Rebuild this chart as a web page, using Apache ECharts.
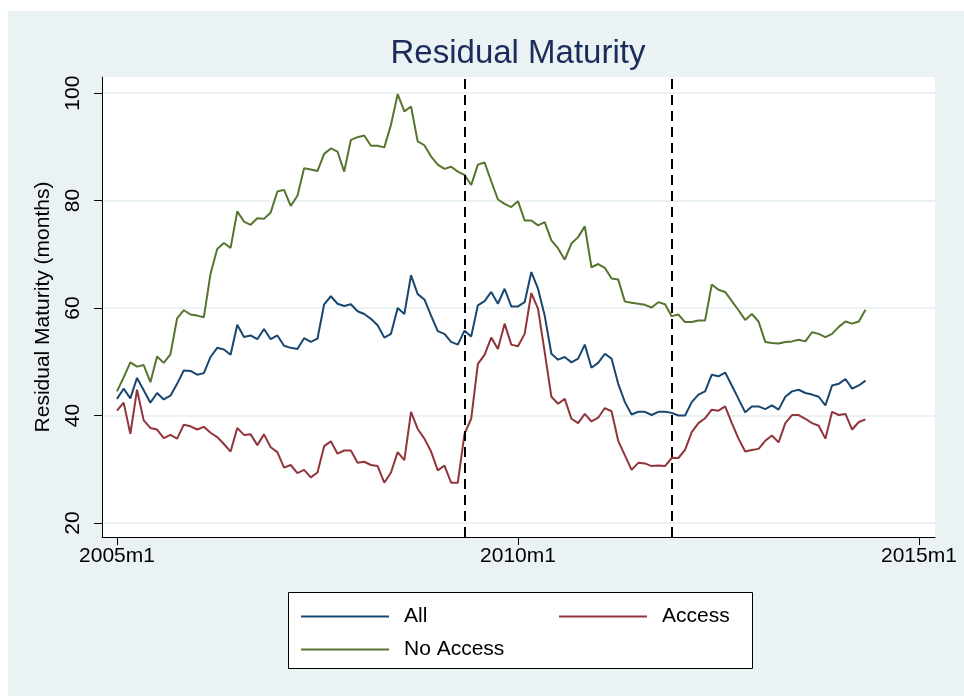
<!DOCTYPE html>
<html>
<head>
<meta charset="utf-8">
<script src="https://cdn.jsdelivr.net/npm/echarts@6/dist/echarts.min.js"></script>
<style>
  html, body { margin: 0; padding: 0; background: #fff; }
  #main { width: 964px; height: 696px; }
</style>
</head>
<body>
<div id="main"></div>
<script>
// months counted from 2005m1 (index 0) to 2014m5 (index 112)
const startYear = 2005;

const allSeries = [
  43.1, 45.0, 43.2, 47.0, 44.7, 42.4, 44.2, 43.0, 43.7, 45.9,
  48.4, 48.3, 47.6, 47.9, 50.9, 52.6, 52.3, 51.3, 56.9, 54.6,
  54.9, 54.2, 56.1, 54.2, 54.9, 53.0, 52.6, 52.4, 54.4, 53.7,
  54.3, 60.7, 62.2, 60.8, 60.4, 60.7, 59.4, 58.9, 58.0, 56.8,
  54.5, 55.2, 60.0, 58.9, 66.1, 62.6, 61.6, 58.6, 55.7, 55.2,
  53.7, 53.2, 55.8, 54.7, 60.5, 61.3, 63.0, 60.8, 63.6, 60.3,
  60.3, 61.1, 66.7, 63.6, 58.6, 51.5, 50.4, 50.9, 49.9, 50.6,
  53.2, 48.9, 49.8, 51.5, 50.6, 45.9, 42.5, 40.2, 40.7, 40.7,
  40.1, 40.7, 40.7, 40.5, 40.0, 40.0, 42.5, 43.9, 44.5, 47.6,
  47.3, 48.0, 45.6, 43.1, 40.6, 41.7, 41.7, 41.2, 41.9, 41.1,
  43.5, 44.5, 44.8, 44.2, 43.9, 43.5, 41.9, 45.6, 45.9, 46.8,
  45.0, 45.6, 46.5
];

const accessSeries = [
  40.9, 42.4, 36.6, 44.8, 39.1, 37.7, 37.4, 35.8, 36.4, 35.7,
  38.3, 38.0, 37.4, 37.9, 36.8, 36.0, 34.7, 33.3, 37.7, 36.4,
  36.5, 34.5, 36.5, 34.1, 33.2, 30.3, 30.8, 29.3, 29.9, 28.5,
  29.4, 34.3, 35.2, 32.9, 33.5, 33.5, 31.2, 31.4, 30.8, 30.6,
  27.5, 29.4, 33.2, 31.7, 40.7, 37.5, 35.7, 33.3, 29.8, 30.7,
  27.5, 27.5, 36.6, 39.4, 49.6, 51.3, 54.5, 52.4, 57.1, 53.2,
  52.9, 55.2, 62.8, 59.9, 51.8, 43.5, 42.2, 43.1, 39.4, 38.6,
  40.3, 38.9, 39.6, 41.4, 40.8, 35.3, 32.6, 29.9, 31.2, 31.1,
  30.6, 30.7, 30.6, 32.1, 32.1, 33.6, 36.9, 38.6, 39.5, 41.1,
  40.9, 41.7, 38.6, 35.7, 33.3, 33.6, 33.8, 35.3, 36.3, 35.0,
  38.6, 40.1, 40.1, 39.4, 38.6, 38.1, 35.7, 40.7, 40.1, 40.3,
  37.4, 38.8, 39.3
];

const noAccessSeries = [
  44.5, 47.1, 49.9, 49.1, 49.4, 46.2, 51.0, 49.8, 51.4, 58.1,
  59.6, 58.8, 58.6, 58.3, 66.4, 71.0, 72.1, 71.2, 78.0, 76.1,
  75.5, 76.7, 76.6, 77.8, 81.7, 82.0, 79.0, 80.9, 86.0, 85.8,
  85.5, 88.7, 89.7, 89.1, 85.4, 91.3, 91.8, 92.1, 90.2, 90.2,
  89.9, 94.1, 99.8, 96.6, 97.5, 91.0, 90.3, 88.2, 86.7, 85.9,
  86.3, 85.4, 84.8, 82.9, 86.7, 87.1, 83.6, 80.2, 79.4, 78.8,
  79.9, 76.3, 76.3, 75.4, 76.0, 72.6, 71.1, 69.0, 72.0, 73.2,
  75.2, 67.6, 68.2, 67.5, 65.5, 65.3, 61.2, 61.0, 60.8, 60.6,
  60.1, 61.1, 60.7, 58.5, 58.8, 57.4, 57.4, 57.7, 57.7, 64.4,
  63.4, 63.0, 61.3, 59.6, 57.8, 58.9, 57.5, 53.7, 53.5, 53.4,
  53.7, 53.8, 54.1, 53.8, 55.5, 55.2, 54.6, 55.2, 56.5, 57.5,
  57.1, 57.5, 59.7
];

const seriesNames = ['All', 'Access', 'No Access'];
const seriesColors = ['#1a476f', '#90353b', '#55752f'];
const eventMonths = ['2009m5', '2011m12'];
const xTickLabels = ['2005m1', '2010m1', '2015m1'];
const yTickValues = [20, 40, 60, 80, 100];

function monthIndex(label) {
  const parts = label.split('m');
  return (parseInt(parts[0], 10) - startYear) * 12 + parseInt(parts[1], 10) - 1;
}
function monthLabel(idx) {
  return (startYear + Math.floor(idx / 12)) + 'm' + (idx % 12 + 1);
}
function toPairs(values) {
  return values.map((v, i) => [i, v]);
}

const font = 'Liberation Sans, Arial, sans-serif';
const chart = echarts.init(document.getElementById('main'));

const lines = [allSeries, accessSeries, noAccessSeries].map((vals, k) => ({
  name: seriesNames[k],
  type: 'line',
  symbol: 'none',
  data: toPairs(vals),
  lineStyle: { color: seriesColors[k], width: 2 },
  itemStyle: { color: seriesColors[k] },
  z: 3,
}));

lines[0].markLine = {
  silent: true,
  symbol: 'none',
  label: { show: false },
  lineStyle: { color: '#000', type: [10, 6], width: 2 },
  data: eventMonths.map((m) => ({ xAxis: monthIndex(m) })),
};

const legendBase = {
  padding: 0,
  itemWidth: 88,
  itemHeight: 14,
  itemStyle: { opacity: 0 },
  textStyle: { fontFamily: font, fontSize: 21, color: '#000', padding: [0, 0, 0, 10] },
};

const option = {
  backgroundColor: '#eaf2f3',
  animation: false,
  title: {
    text: 'Residual Maturity',
    left: 518,
    textAlign: 'center',
    top: 37,
    padding: 0,
    textStyle: { fontFamily: font, fontSize: 33, fontWeight: 'normal', color: '#1c2b5a' },
  },
  graphic: [
    { type: 'rect', shape: { x: 0, y: 0, width: 964, height: 11 }, style: { fill: '#fff' }, silent: true },
    { type: 'rect', shape: { x: 0, y: 0, width: 8, height: 696 }, style: { fill: '#fff' }, silent: true },
    {
      type: 'rect', z: 1,
      shape: { x: 288.5, y: 592.5, width: 464, height: 76 },
      style: { fill: '#fff', stroke: '#000', lineWidth: 1 },
      silent: true,
    },
  ],
  legend: [
    Object.assign({ data: ['All'], left: 300, top: 606 }, legendBase),
    Object.assign({ data: ['Access'], left: 558, top: 606 }, legendBase),
    Object.assign({ data: ['No Access'], left: 300, top: 639 }, legendBase),
  ],
  grid: {
    left: 102,
    right: 29,
    top: 77,
    bottom: 159,
    show: true,
    backgroundColor: '#fff',
    borderWidth: 0,
  },
  xAxis: {
    type: 'value',
    min: -2.24,
    max: 122.4,
    axisLine: { show: true, onZero: false, lineStyle: { color: '#000', width: 1 } },
    axisTick: {
      show: true,
      length: 8,
      lineStyle: { color: '#000' },
      customValues: xTickLabels.map(monthIndex),
    },
    axisLabel: {
      customValues: xTickLabels.map(monthIndex),
      formatter: (v) => monthLabel(Math.round(v)),
      fontFamily: font,
      fontSize: 21,
      color: '#000',
      margin: 9,
    },
    splitLine: { show: false },
  },
  yAxis: {
    type: 'value',
    min: 17.4,
    max: 103,
    name: 'Residual Maturity (months)',
    nameLocation: 'middle',
    nameGap: 48,
    nameTextStyle: { fontFamily: font, fontSize: 21, color: '#000' },
    axisLine: { show: true, onZero: false, lineStyle: { color: '#000', width: 1 } },
    axisTick: {
      show: true,
      length: 8,
      lineStyle: { color: '#000' },
      customValues: yTickValues,
    },
    axisLabel: {
      customValues: yTickValues,
      rotate: 90,
      fontFamily: font,
      fontSize: 21,
      color: '#000',
      margin: 18,
    },
    splitLine: { show: true, lineStyle: { color: '#eaf2f3', width: 2 } },
  },
  series: lines,
};

chart.setOption(option);
</script>
</body>
</html>
